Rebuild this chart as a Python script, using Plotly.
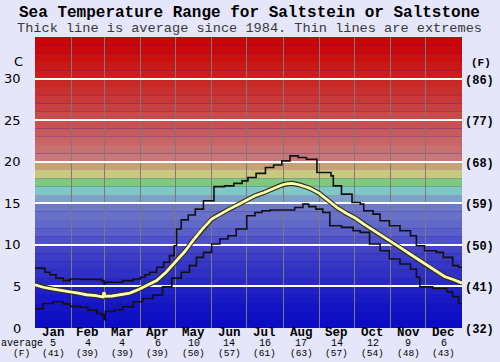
import plotly.graph_objects as go

# ---------------- data ----------------
months = ["Jan", "Feb", "Mar", "Apr", "May", "Jun", "Jul", "Aug", "Sep", "Oct", "Nov", "Dec"]
month_avg_c = [5, 4, 4, 6, 10, 14, 16, 17, 14, 12, 9, 6]
month_avg_f = [41, 39, 39, 39, 50, 57, 61, 63, 57, 54, 48, 43]
month_len = [31, 28, 31, 30, 31, 30, 31, 31, 30, 31, 30, 31]

c_ticks = [0, 5, 10, 15, 20, 25, 30]
f_ticks = ["(32)", "(41)", "(50)", "(59)", "(68)", "(77)", "(86)"]

# average (thick line): day of year, deg C
avg_days = [0, 7, 14.5, 22, 30, 37, 44, 52, 58, 59, 60, 66, 73.5, 81, 89, 96, 104, 112, 120,
            128, 135, 143, 151, 158, 166, 173, 181, 188, 196, 204, 211, 216, 220, 226.5,
            235, 243, 250, 258, 266, 274, 282, 290, 298, 306, 313, 320.5, 328, 335, 342,
            350, 358, 365]
avg_vals = [5.2, 4.9, 4.7, 4.5, 4.35, 4.2, 4.0, 3.9, 3.75, 4.3, 3.8, 3.85, 4.0, 4.2, 4.65,
            5.1, 5.7, 6.7, 7.9, 9.2, 10.5, 11.9, 13.1, 13.7, 14.3, 14.8, 15.4, 15.9, 16.3,
            16.8, 17.2, 17.35, 17.4, 17.2, 16.8, 16.2, 15.4, 14.5, 13.8, 13.2, 12.4, 11.7,
            10.9, 10.2, 9.6, 8.9, 8.2, 7.5, 6.9, 6.2, 5.8, 5.4]

# maximum (thin upper line), stepped
max_days = [0, 8.5, 12.8, 18, 24, 30, 40, 57, 59, 60, 63, 75, 84, 90, 94, 98, 104, 110, 115,
            119, 121, 125, 131, 137, 144, 153, 162, 170, 177, 182, 189, 197, 204, 211, 218,
            225, 232, 241, 253, 255, 262, 271, 278, 281, 289, 295, 303, 312, 321, 326, 333,
            343, 349, 357, 362, 365]
max_vals = [7.2, 6.7, 6.4, 6.0, 5.7, 5.9, 5.85, 5.7, 5.3, 5.5, 5.5, 5.7, 5.9, 6.1, 6.4, 6.7,
            7.3, 7.9, 8.7, 9.9, 11.9, 13.0, 13.6, 14.3, 15.3, 17.0, 17.1, 17.4, 17.7, 18.1,
            18.6, 19.3, 19.6, 20.1, 20.7, 20.5, 20.3, 18.7, 18.3, 17.1, 16.1, 15.1, 14.9,
            14.1, 13.7, 12.9, 12.3, 11.7, 11.1, 9.9, 9.3, 9.1, 8.5, 7.5, 7.3, 7.3]

# minimum (thin lower line), stepped
min_days = [0, 6.8, 15.4, 24, 30, 38.5, 45, 53, 57, 59, 60, 68, 75, 84, 92, 101, 109, 117,
            125, 132, 138, 144, 151, 158, 165, 172, 181, 188, 194, 201, 222, 229, 234, 240,
            246, 252, 262, 272, 278, 286, 295, 303, 312, 321, 326, 329, 340, 352, 357, 362,
            365]
min_vals = [2.3, 2.95, 3.15, 2.9, 2.6, 2.5, 2.15, 1.75, 1.6, 1.0, 2.0, 2.2, 2.55, 3.15, 3.55,
            3.95, 4.95, 6.0, 6.7, 7.5, 8.5, 9.1, 10.1, 10.7, 11.1, 11.9, 13.5, 13.9, 14.1,
            14.2, 14.5, 14.9, 14.6, 14.3, 13.9, 12.3, 12.1, 11.7, 11.5, 10.1, 9.3, 8.3, 7.7,
            7.1, 6.1, 4.95, 4.75, 4.35, 3.75, 2.95, 2.95]

# background colour bands, one per degree from 0 upward
band_colors = [
    "#0c0cc4", "#1010c4", "#1414c4", "#1a1ac4", "#2020c4",
    "#2828c4", "#3030c4", "#3636c4", "#3c3cc4", "#4444c4",
    "#5050c8", "#5a60c8", "#6068c8", "#6870c8", "#7078c8",
    "#80a0c8", "#80c8c8", "#80c880", "#c8c880", "#c8a078",
    "#c87878", "#c87070", "#c86464", "#c85c5c", "#c85252",
    "#c84a4a", "#c84040", "#c83838", "#c83030", "#c82828",
    "#c82020", "#c81818", "#cc1010", "#cc0808", "#cc0404",
]

# ---------------- figure ----------------
W, H = 500, 362
L, R, T, B = 35, 38, 37, 34
PW, PH = W - L - R, H - T - B

def px_x(x):
    return (x - L) / PW

def px_y(y):
    return (H - B - y) / PH

fig = go.Figure()

for i, col in enumerate(band_colors):
    fig.add_shape(type="rect", xref="x domain", yref="y", x0=0, x1=1, y0=i, y1=i + 1,
                  fillcolor=col, line_width=0, layer="below")

fig.add_trace(go.Scatter(x=max_days, y=max_vals, mode="lines", line=dict(color="#101010", width=1.6, shape="hv"),
                         hoverinfo="skip", showlegend=False))
fig.add_trace(go.Scatter(x=min_days, y=min_vals, mode="lines", line=dict(color="#101010", width=1.6, shape="hv"),
                         hoverinfo="skip", showlegend=False))
fig.add_trace(go.Scatter(x=avg_days, y=avg_vals, mode="lines", line=dict(color="#303018", width=5),
                         hoverinfo="skip", showlegend=False))
fig.add_trace(go.Scatter(x=avg_days, y=avg_vals, mode="lines", line=dict(color="#ffffb0", width=2.8),
                         hoverinfo="skip", showlegend=False))

month_starts = [0]
for n in month_len:
    month_starts.append(month_starts[-1] + n)
month_mids = [month_starts[i] + month_len[i] / 2 for i in range(12)]

ann = []
mono = "Liberation Mono"

def add(x, y, text, size, family=mono, color="#000", xref="paper", yref="paper", xanchor="center", **kw):
    ann.append(dict(x=x, y=y, xref=xref, yref=yref, text=text, showarrow=False,
                    xanchor=xanchor, yanchor="middle",
                    font=dict(family=family, size=size, color=color), **kw))

for i, m in enumerate(months):
    add(month_mids[i], px_y(333), "<b>%s</b>" % m, 12.5, xref="x")
    add(month_mids[i], px_y(343), str(month_avg_c[i]), 10, xref="x")
    add(month_mids[i], px_y(353), "(%d)" % month_avg_f[i], 9.5, xref="x")

add(px_x(22), px_y(343), "average", 10)
add(px_x(21), px_y(353), "(F)", 9.5)

for v, f in zip(c_ticks, f_ticks):
    add(px_x(23), v, str(v), 13, family="DejaVu Sans", xanchor="right", yref="y")
    add(px_x(479.5), v, "<b>%s</b>" % f, 12, yref="y", yshift=-2)

add(px_x(18), px_y(61), "C", 13, family="DejaVu Sans")
add(px_x(481), px_y(63), "<b>(F)</b>", 11)

add(px_x(249), px_y(13), "<b>Sea Temperature Range for Saltstein or Saltstone</b>", 16)
add(px_x(249), px_y(28), "Thick line is average since 1984. Thin lines are extremes", 13.6, color="#383838")

fig.update_layout(
    width=W, height=H,
    margin=dict(l=L, r=R, t=T, b=B, autoexpand=False),
    paper_bgcolor="#e6e6fa",
    plot_bgcolor="#0c0cc4",
    annotations=ann,
    xaxis=dict(range=[0, 365], tickvals=month_starts[1:-1], showticklabels=False, ticks="",
               showgrid=True, gridcolor="#7a7a7a", gridwidth=1, zeroline=False, showline=False,
               fixedrange=True),
    yaxis=dict(range=[0, 35], tickvals=c_ticks[1:], showticklabels=False, ticks="",
               showgrid=True, gridcolor="#ffffff", gridwidth=2, zeroline=False, showline=False,
               fixedrange=True),
)

fig.write_html("out.html", config={"displayModeBar": False},
               post_script="document.body.style.margin='0';document.body.style.padding='0';")
